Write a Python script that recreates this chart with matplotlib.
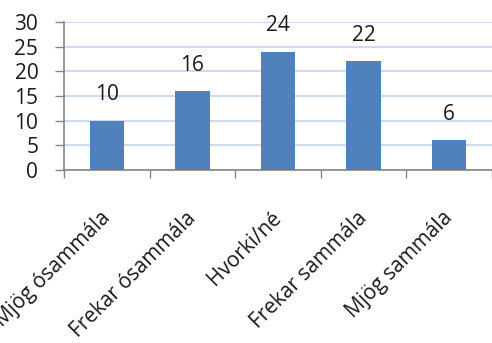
import matplotlib
matplotlib.use("Agg")
from matplotlib import pyplot as plt

categories = ["Mjög ósammála", "Frekar ósammála", "Hvorki/né", "Frekar sammála", "Mjög sammála"]
counts = [10, 16, 24, 22, 6]

bar_color = "#4f81bd"
grid_color = "#c5d3ec"
axis_color = "#868686"
text_color = "#1a1a1a"

plt.rcParams['font.family'] = ['Open Sans', 'DejaVu Sans']

fig = plt.figure(figsize=(4.92, 3.43), dpi=100)
ax = fig.add_axes([64 / 492, 1 - 170 / 343, 428 / 492, 148 / 343])

x = list(range(len(categories)))
ax.bar(x, counts, width=0.4, color=bar_color, zorder=3)
for i, v in enumerate(counts):
    ax.annotate(str(v), (i, v), xytext=(0, 11), textcoords="offset points",
                ha="center", va="bottom", fontsize=15, color=text_color)

ax.set_xlim(-0.5, len(categories) - 0.5)
ax.set_ylim(0, 30)
ax.set_yticks(range(0, 31, 5))
ax.yaxis.grid(True, color=grid_color, linewidth=1.2, zorder=0)

# category boundaries get the tick marks; labels sit just left of each centre
ax.set_xticks([i - 0.5 for i in range(len(categories) + 1)])
ax.set_xticklabels([])
ax.set_xticks([i - 0.08 for i in x], minor=True)
ax.set_xticklabels(categories, minor=True, rotation=45, ha="right",
                   rotation_mode="anchor", fontsize=15, color=text_color)
ax.tick_params(axis="x", which="minor", length=0, pad=27)
ax.tick_params(axis="x", which="major", length=6, color=axis_color, width=1)
ax.tick_params(axis="y", length=6.5, color=axis_color, width=1, pad=12,
               labelsize=15, labelcolor=text_color)

for side in ["top", "right"]:
    ax.spines[side].set_visible(False)
for side in ["left", "bottom"]:
    ax.spines[side].set_color(axis_color)
    ax.spines[side].set_linewidth(1.2)

fig.savefig("out.png", dpi=100)
